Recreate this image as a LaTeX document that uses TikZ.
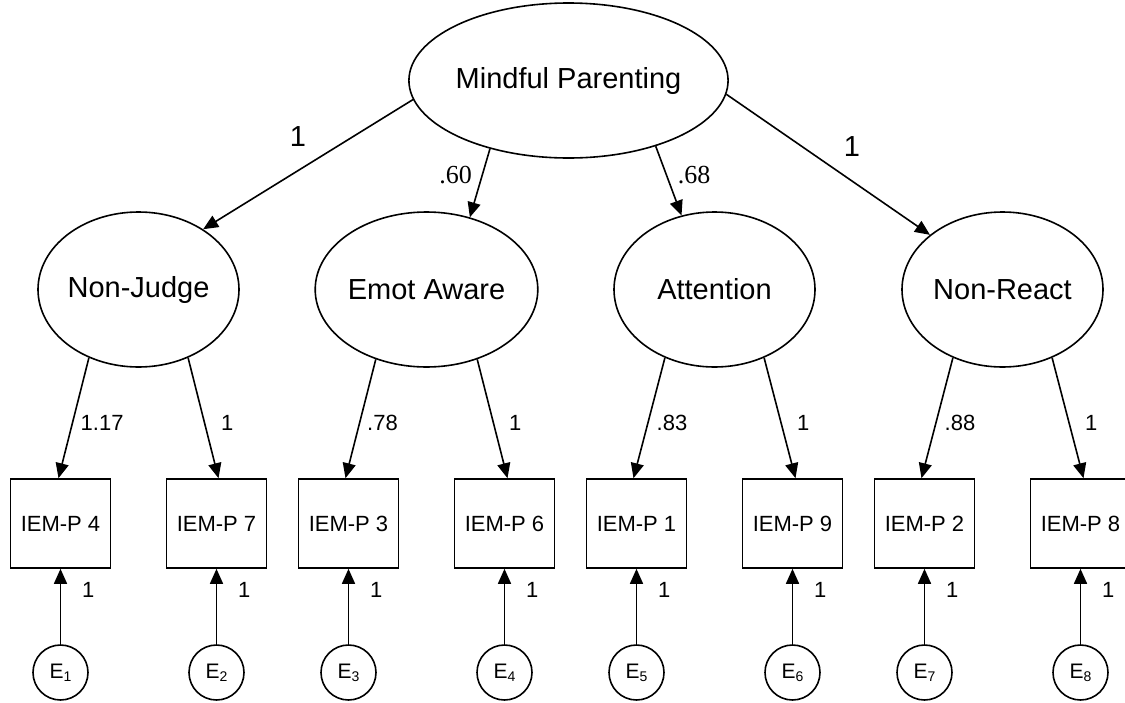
\documentclass[tikz,border=0pt]{standalone}
\usepackage{fontspec}
\setmainfont{Liberation Sans}
\newfontfamily\tms{Liberation Serif}
\usetikzlibrary{shapes.geometric,arrows.meta,calc}
\newcommand{\Esub}[1]{E\raisebox{-0.3ex}{\fontsize{14}{16}\selectfont #1}}
\begin{document}
\begin{tikzpicture}[x=1pt,y=-1pt,
 lat/.style={draw, ellipse, line width=1.6pt, minimum width=201pt, minimum height=155pt, inner sep=0pt, font=\fontsize{29}{34}\selectfont},
 mainlat/.style={lat, minimum width=311pt},
 obs/.style={draw, rectangle, line width=1.6pt, minimum width=100pt, minimum height=89pt, inner sep=0pt, font=\fontsize{22}{26}\selectfont},
 err/.style={draw, circle, line width=1.6pt, minimum size=55pt, inner sep=0pt, font=\fontsize{21}{24}\selectfont},
 arr/.style={line width=1.6pt, -{Triangle[length=15pt,width=13pt]}},
 big/.style={inner sep=0pt, font=\fontsize{29}{34}\selectfont},
 sml/.style={inner sep=0pt, font=\fontsize{22}{26}\selectfont},
 ser/.style={inner sep=0pt, font=\tms\fontsize{26}{30}\selectfont},
]
\useasboundingbox (0,0) rectangle (1125,702);
% latent variables
\node[mainlat] (mp) at (568.5,80.5) {Mindful Parenting};
\node[lat] (nj) at (138.5,289.5) {Non-Judge};
\node[lat] (ea) at (426.5,289.5) {Emot Aware};
\node[lat] (at) at (714.5,289.5) {Attention};
\node[lat] (nr) at (1002.5,289.5) {Non-React};
% observed
\node[obs] (p4) at (60.5,523.5) {IEM-P 4};
\node[obs] (p7) at (216.5,523.5) {IEM-P 7};
\node[obs] (p3) at (348.5,523.5) {IEM-P 3};
\node[obs] (p6) at (504.5,523.5) {IEM-P 6};
\node[obs] (p1) at (636.5,523.5) {IEM-P 1};
\node[obs] (p9) at (792.5,523.5) {IEM-P 9};
\node[obs] (p2) at (924.5,523.5) {IEM-P 2};
\node[obs] (p8) at (1080.5,523.5) {IEM-P 8};
% errors
\node[err] (e1) at (60.5,672.5) {\Esub{1}};
\node[err] (e2) at (216.5,672.5) {\Esub{2}};
\node[err] (e3) at (348.5,672.5) {\Esub{3}};
\node[err] (e4) at (504.5,672.5) {\Esub{4}};
\node[err] (e5) at (636.5,672.5) {\Esub{5}};
\node[err] (e6) at (792.5,672.5) {\Esub{6}};
\node[err] (e7) at (924.5,672.5) {\Esub{7}};
\node[err] (e8) at (1080.5,672.5) {\Esub{8}};
% top paths
\draw[arr] (mp.187) -- (nj.43);
\draw[arr] (mp.221) -- (ea.59);
\draw[arr] (mp.323) -- (at.114);
\draw[arr] (mp.355) -- (nr.143);
\node[big] (l1) at (298,137) {1};
\node[ser] (l2) at (455.5,175) {.60};
\node[ser] (l3) at (694,175) {.68};
\node[big] (l4) at (852,147) {1};
% loadings
\draw[arr] (nj.234) -- ($(p4.north)+(-2,0)$);
\draw[arr] (nj.306) -- ($(p7.north)+(2,0)$);
\draw[arr] (ea.234) -- ($(p3.north)+(-3,0)$);
\draw[arr] (ea.306) -- ($(p6.north)+(3,0)$);
\draw[arr] (at.234) -- ($(p1.north)+(-3,0)$);
\draw[arr] (at.306) -- ($(p9.north)+(3,0)$);
\draw[arr] (nr.234) -- ($(p2.north)+(-3,0)$);
\draw[arr] (nr.306) -- ($(p8.north)+(3,0)$);
\node[sml, anchor=west] (w4) at (80.5,423) {1.17};
\node[sml, anchor=west] (w7) at (221,423) {1};
\node[sml, anchor=west] (w3) at (367,423) {.78};
\node[sml, anchor=west] (w6) at (509,423) {1};
\node[sml, anchor=west] (w1) at (656.5,423) {.83};
\node[sml, anchor=west] (w9) at (797,423) {1};
\node[sml, anchor=west] (w2) at (944.5,423) {.88};
\node[sml, anchor=west] (w8) at (1085,423) {1};
% error paths
\foreach \e/\p in {1/4,2/7,3/3,4/6,5/1,6/9,7/2,8/8}{
  \draw[arr] (e\e.north) -- (p\p.south);
}
\node[sml, anchor=west] (f4) at (82,589.5) {1};
\node[sml, anchor=west] (f7) at (238,589.5) {1};
\node[sml, anchor=west] (f3) at (370,589.5) {1};
\node[sml, anchor=west] (f6) at (526,589.5) {1};
\node[sml, anchor=west] (f1) at (658,589.5) {1};
\node[sml, anchor=west] (f9) at (814,589.5) {1};
\node[sml, anchor=west] (f2) at (946,589.5) {1};
\node[sml, anchor=west] (f8) at (1102,589.5) {1};
\end{tikzpicture}
\end{document}
